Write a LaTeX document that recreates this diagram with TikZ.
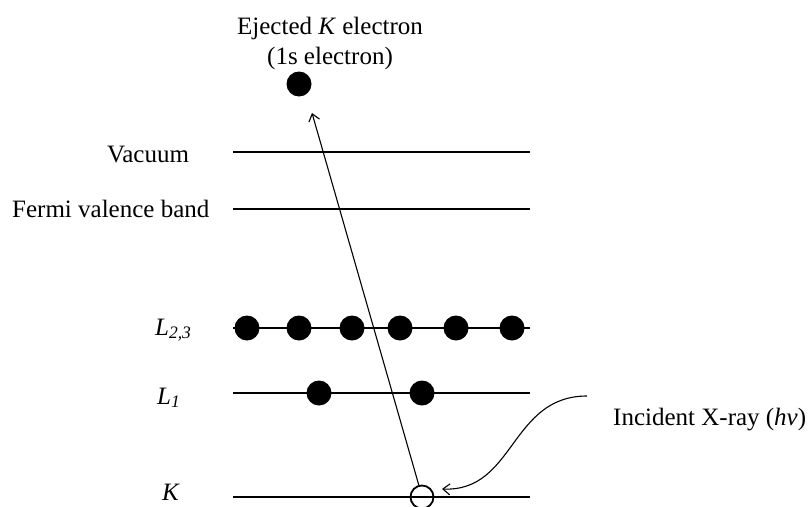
\documentclass[tikz,border=0pt]{standalone}
\usepackage{fontspec}
\setmainfont{Liberation Serif}
\usetikzlibrary{arrows.meta}
\begin{document}
\begin{tikzpicture}[x=1pt,y=-1pt,
  every node/.style={font=\fontsize{25}{30}\selectfont, inner sep=0pt},
  level/.style={line width=1.1pt},
  electron/.style={circle, fill=black, minimum size=25pt, inner sep=0pt},
  holestyle/.style={circle, draw=black, line width=1.8pt, minimum size=23pt, inner sep=0pt},
  arr/.style={line width=1.1pt, -{Straight Barb[length=7pt,width=11pt,line width=1.1pt]}},
  lab/.style={anchor=base west}]
\useasboundingbox (0,0) rectangle (808,506);
% level end points
\coordinate (vacL) at (233,152); \coordinate (vacR) at (530,152);
\coordinate (ferL) at (233,209); \coordinate (ferR) at (530,209);
\coordinate (ltL) at (233,328); \coordinate (ltR) at (530,328);
\coordinate (loL) at (233,393); \coordinate (loR) at (530,393);
\coordinate (kL) at (233,497); \coordinate (kR) at (530,497);
\draw[level] (vacL) -- (vacR);
\draw[level] (ferL) -- (ferR);
\draw[level] (ltL) -- (ltR);
\draw[level] (loL) -- (loR);
\draw[level] (kL) -- (kR);
% labels
\node[anchor=base] (vaclab) at (148,162) {Vacuum};
\node[lab] (ferlab) at (12,217) {Fermi valence band};
\node[lab] (ltlab) at (155,335) {\textit{L}\textsubscript{\textit{2,3}}};
\node[lab] (lolab) at (157,404) {\textit{L}\textsubscript{\textit{1}}};
\node[lab] (klab) at (162,500) {\textit{K}};
\node[align=center] (ejlab) at (330,43) {Ejected \textit{K} electron\\(1s electron)};
\node[lab] (xlab) at (613,425) {Incident X-ray (\textit{hν})};
% electrons
\node[electron] (ej) at (299,84) {};
\node[electron] (a1) at (247,328) {};
\node[electron] (a2) at (299,328) {};
\node[electron] (a3) at (352,328) {};
\node[electron] (a4) at (400,328) {};
\node[electron] (a5) at (456,328) {};
\node[electron] (a6) at (512,328) {};
\node[electron] (b1) at (319,393) {};
\node[electron] (b2) at (422,393) {};
\node[holestyle] (hole) at (422,497) {};
% arrows
\coordinate (ejtip) at (312,113);
\draw[arr] (hole.105) -- (ejtip);
\coordinate (xstart) at (587,396);
\coordinate (xend) at (442,489);
\draw[arr] (xstart) .. controls (510,396) and (515,492) .. (xend);
\end{tikzpicture}
\end{document}
